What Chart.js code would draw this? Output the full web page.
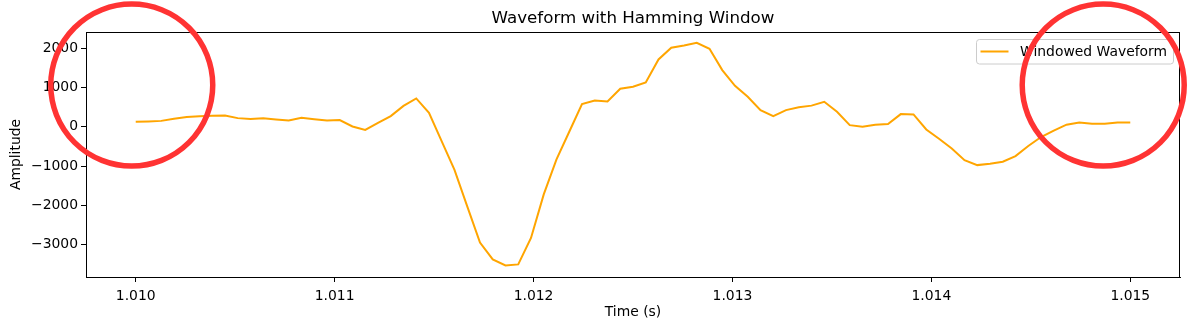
<!DOCTYPE html>
<html>
<head>
<meta charset="utf-8">
<script src="https://cdn.jsdelivr.net/npm/chart.js@4.4.1/dist/chart.umd.min.js"></script>
<style>
  html, body { margin: 0; padding: 0; background: #fff; }
  #chart { display: block; }
</style>
</head>
<body>
<canvas id="chart" width="1189" height="330"></canvas>
<script>
// windowed samples, 79 points spanning 1.010 s .. 1.015 s
const startTime = 1.010;
const endTime = 1.015;
const amplitudes = [
  127, 137, 150, 203, 250, 268, 278, 285, 220, 196,
  216, 183, 157, 229, 190, 157, 170, 8, -80, 98,
  272, 530, 721, 356, -370, -1098, -2025, -2944, -3372, -3525,
  -3500, -2826, -1720, -830, -127, 576, 670, 644, 966, 1017,
  1127, 1712, 2009, 2068, 2136, 1983, 1441, 1042, 763, 424,
  271, 424, 496, 538, 636, 381, 42, 0, 51, 68,
  322, 314, -68, -305, -551, -848, -975, -941, -890, -746,
  -490, -260, -100, 53, 110, 76, 76, 110, 110
];
const times = amplitudes.map((_, i) => startTime + (endTime - startTime) * i / (amplitudes.length - 1));

const xTicks = [1.010, 1.011, 1.012, 1.013, 1.014, 1.015];
const yTicks = [-3000, -2000, -1000, 0, 1000, 2000];

// highlighted regions (time, amplitude)
const markTimes = [1.00998, 1.014864];
const markAmps = [1060, 1060];

const FONT = 'DejaVu Sans';
const tickFont = { family: FONT, size: 13.9 };

const decorations = {
  id: 'decorations',
  afterDraw(chart) {
    const { ctx, chartArea: a, scales } = chart;
    ctx.save();

    // spines on all four sides
    ctx.strokeStyle = '#000';
    ctx.lineWidth = 1;
    ctx.strokeRect(Math.round(a.left) + 0.5, Math.round(a.top) + 0.5,
      Math.round(a.right - a.left) - 1, Math.round(a.bottom - a.top));

    // title
    ctx.fillStyle = '#000';
    ctx.font = '16.7px "' + FONT + '"';
    ctx.textAlign = 'center';
    ctx.textBaseline = 'middle';
    ctx.fillText('Waveform with Hamming Window', (a.left + a.right) / 2, 18.5);

    // legend
    const lx = a.right - 203.5, ly = a.top + 7.5, lw = 197, lh = 24.5;
    ctx.beginPath();
    ctx.roundRect(lx, ly, lw, lh, 3);
    ctx.fillStyle = 'rgba(255,255,255,0.8)';
    ctx.fill();
    ctx.strokeStyle = '#cccccc';
    ctx.stroke();
    ctx.beginPath();
    ctx.moveTo(lx + 4, ly + 12);
    ctx.lineTo(lx + 32, ly + 12);
    ctx.strokeStyle = '#ffa500';
    ctx.lineWidth = 2;
    ctx.stroke();
    ctx.fillStyle = '#000';
    ctx.font = '13.9px "' + FONT + '"';
    ctx.textAlign = 'left';
    ctx.fillText('Windowed Waveform', lx + 43.5, ly + 12.5);

    // red circles
    ctx.strokeStyle = '#ff3333';
    ctx.lineWidth = 5.5;
    markTimes.forEach((t, i) => {
      const cx = scales.x.getPixelForValue(t);
      const cy = scales.y.getPixelForValue(markAmps[i]);
      ctx.beginPath();
      ctx.arc(cx, cy, 81, 0, Math.PI * 2);
      ctx.stroke();
    });
    ctx.restore();
  }
};

new Chart(document.getElementById('chart'), {
  type: 'line',
  data: {
    datasets: [{
      label: 'Windowed Waveform',
      data: times.map((t, i) => ({ x: t, y: amplitudes[i] })),
      borderColor: '#ffa500',
      borderWidth: 2,
      pointRadius: 0,
      fill: false,
      tension: 0
    }]
  },
  options: {
    responsive: false,
    animation: false,
    layout: { padding: { left: 0, right: 9, top: 32, bottom: 0 } },
    plugins: {
      legend: { display: false },
      title: { display: false },
      tooltip: { enabled: false }
    },
    scales: {
      x: {
        type: 'linear',
        min: 1.00975,
        max: 1.01525,
        afterBuildTicks: axis => { axis.ticks = xTicks.map(v => ({ value: v })); },
        afterFit: axis => { axis.height = 53; },
        ticks: {
          callback: v => v.toFixed(3),
          font: tickFont,
          color: '#000',
          padding: 6,
          maxRotation: 0,
          autoSkip: false
        },
        grid: { drawOnChartArea: false, drawTicks: true, tickLength: 5, color: '#000' },
        border: { display: true, color: '#000' },
        title: { display: true, text: 'Time (s)', font: tickFont, color: '#000', padding: { top: 0, bottom: 9 } }
      },
      y: {
        min: -3820,
        max: 2410,
        afterBuildTicks: axis => { axis.ticks = yTicks.map(v => ({ value: v })); },
        afterFit: axis => { axis.width = 86; },
        ticks: {
          // typographic minus for negative values
          callback: v => String(v).replace('-', '\u2212'),
          font: tickFont,
          color: '#000',
          padding: 3
        },
        grid: { drawOnChartArea: false, drawTicks: true, tickLength: 5, color: '#000' },
        border: { display: true, color: '#000' },
        title: { display: true, text: 'Amplitude', font: tickFont, color: '#000', padding: { top: 8, bottom: 0 } }
      }
    }
  },
  plugins: [decorations]
});
</script>
</body>
</html>
